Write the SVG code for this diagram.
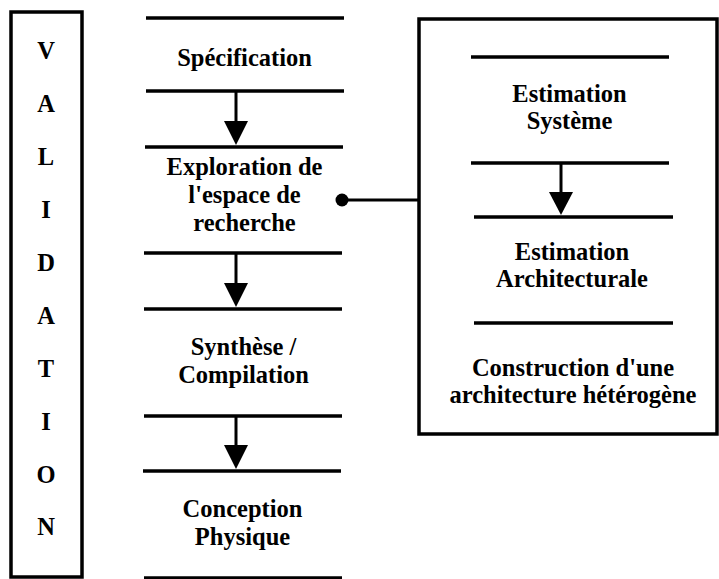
<svg xmlns="http://www.w3.org/2000/svg" width="719" height="579" viewBox="0 0 719 579">
<style>
  text { font-family: "Liberation Serif", "Times New Roman", serif; font-weight: bold; font-size: 24.5px; fill: #000; text-anchor: middle; }
  .bar { stroke: #000; stroke-width: 3.5; fill: none; }
  .frame { stroke: #000; stroke-width: 3.5; fill: #fff; }
  .link { stroke: #000; stroke-width: 3; fill: none; }
  .head { fill: #000; stroke: none; }
</style>
<rect width="719" height="579" fill="#fff"/>
<g id="validation">
  <rect class="frame" x="11" y="12" width="71" height="565"/>
  <text x="46" y="59">V</text>
  <text x="46" y="112">A</text>
  <text x="46" y="165">L</text>
  <text x="46" y="218">I</text>
  <text x="46" y="271">D</text>
  <text x="46" y="324">A</text>
  <text x="46" y="377">T</text>
  <text x="46" y="430">I</text>
  <text x="46" y="483">O</text>
  <text x="46" y="535">N</text>
</g>
<g id="specification">
  <line class="bar" x1="146" y1="18" x2="344" y2="18"/>
  <text x="244.5" y="66">Spécification</text>
  <line class="bar" x1="146" y1="91" x2="344" y2="91"/>
</g>
<g id="exploration">
  <line class="bar" x1="145" y1="147" x2="343" y2="147"/>
  <text x="244.5" y="175">Exploration de</text>
  <text x="244.5" y="203">l'espace de</text>
  <text x="244.5" y="231">recherche</text>
  <line class="bar" x1="144" y1="253" x2="342" y2="253"/>
</g>
<g id="synthese">
  <line class="bar" x1="144" y1="309" x2="342" y2="309"/>
  <text x="243.5" y="355">Synthèse /</text>
  <text x="243.5" y="383">Compilation</text>
  <line class="bar" x1="144" y1="416" x2="342" y2="416"/>
</g>
<g id="conception">
  <line class="bar" x1="143" y1="471" x2="341" y2="471"/>
  <text x="242.5" y="517">Conception</text>
  <text x="242.5" y="545">Physique</text>
  <line class="bar" x1="144" y1="578" x2="342" y2="578"/>
</g>
<g id="estimation-box">
  <rect class="frame" x="419" y="19" width="298" height="415"/>
  <line class="bar" x1="471" y1="57" x2="669" y2="57"/>
  <text x="569.5" y="102">Estimation</text>
  <text x="569.5" y="129">Système</text>
  <line class="bar" x1="471" y1="163" x2="669" y2="163"/>
  <line class="bar" x1="474" y1="217" x2="673" y2="217"/>
  <text x="572" y="260">Estimation</text>
  <text x="572" y="287">Architecturale</text>
  <line class="bar" x1="474" y1="323" x2="673" y2="323"/>
  <text x="573" y="376">Construction d'une</text>
  <text x="573" y="403">architecture hétérogène</text>
</g>
<g id="connectors">
  <line class="link" x1="236" y1="91" x2="236" y2="122"/>
  <polygon class="head" points="224,121 248,121 236,145"/>
  <line class="link" x1="236" y1="253" x2="236" y2="284"/>
  <polygon class="head" points="224,283 248,283 236,307"/>
  <line class="link" x1="236" y1="416" x2="236" y2="446"/>
  <polygon class="head" points="224,445 248,445 236,469"/>
  <line class="link" x1="561" y1="163" x2="561" y2="193"/>
  <polygon class="head" points="549,192 573,192 561,215"/>
  <line class="link" x1="342" y1="200" x2="419" y2="200"/>
  <circle class="head" cx="342" cy="200" r="6.5"/>
</g>
</svg>
